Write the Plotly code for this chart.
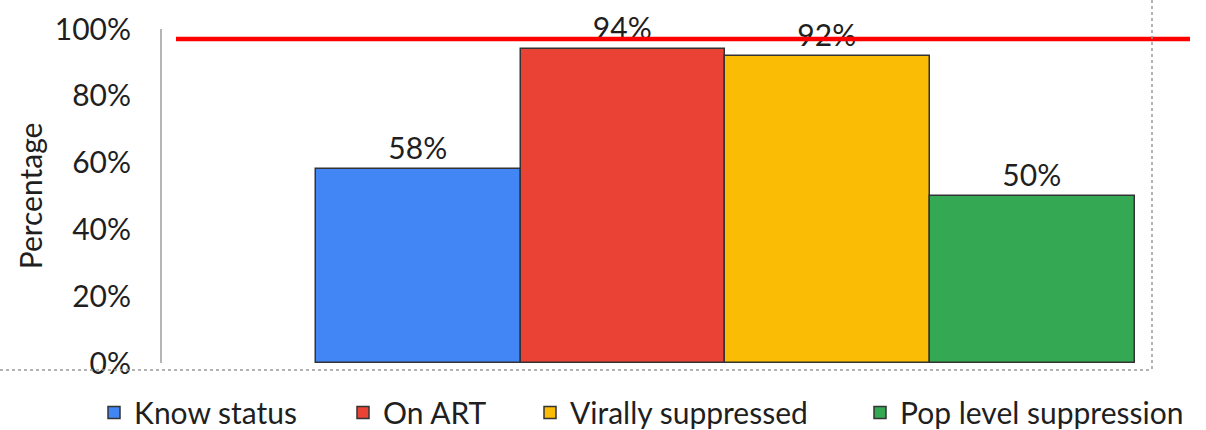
import plotly.graph_objects as go

categories = ["Know status", "On ART", "Virally suppressed", "Pop level suppression"]
values = [58, 94, 92, 50]
colors = ["#4285F4", "#EA4335", "#FBBC05", "#34A853"]
target = 97
y_ticks = [0, 20, 40, 60, 80, 100]
y_tick_labels = ["0%", "20%", "40%", "60%", "80%", "100%"]

FONT = "Lato"
TXT = "#1f1f1f"
L, R, T, B = 162, 16, 29, 67
W, H = 1206, 430
pw, ph = W - L - R, H - T - B

def px(x):
    return (x - L) / pw

def py(y):
    return (H - B - y) / ph

legend_ids = ["legend", "legend2", "legend3", "legend4"]
legend_sym_centers = [113, 362, 549, 879]

fig = go.Figure()
for c, v, col, lid in zip(categories, values, colors, legend_ids):
    fig.add_trace(go.Bar(
        x=[c], y=[v], name=c, legend=lid,
        marker=dict(color=col, line=dict(color="#333333", width=1.5)),
        text=[f"{v}%"], textposition="outside", cliponaxis=False,
        textfont=dict(family=FONT, size=30, color=TXT),
        width=1,
    ))

fig.add_shape(type="line", xref="paper", yref="y", x0=px(176), x1=px(1190), y0=target, y1=target,
              line=dict(color="#FF0000", width=4.5))
fig.add_shape(type="line", xref="paper", yref="paper", x0=px(0), x1=px(1152), y0=py(370), y1=py(370),
              line=dict(color="#9a9a9a", width=1.5, dash="dot"))
fig.add_shape(type="line", xref="paper", yref="paper", x0=px(1152), x1=px(1152), y0=py(0), y1=py(370),
              line=dict(color="#9a9a9a", width=1.5, dash="dot"))

legend_common = dict(orientation="h", yanchor="top", y=-0.07, xanchor="left",
                     font=dict(family=FONT, size=30, color=TXT), itemwidth=30,
                     bgcolor="rgba(0,0,0,0)")
legends = {}
for lid, cx in zip(legend_ids, legend_sym_centers):
    legends[lid] = dict(legend_common, x=px(cx - 19))

fig.update_layout(
    width=W, height=H,
    margin=dict(l=L, r=R, t=T, b=B, autoexpand=False),
    paper_bgcolor="white", plot_bgcolor="white",
    barmode="overlay", bargap=0,
    font=dict(family=FONT, size=30, color=TXT),
    xaxis=dict(range=[-1.251, 3.768], showticklabels=False, showgrid=False, zeroline=False,
               showline=False, fixedrange=True),
    yaxis=dict(range=[0, 100], tickvals=y_ticks, ticktext=y_tick_labels, showgrid=False,
               zeroline=False, showline=True, linecolor="#b5b5b5", linewidth=2,
               ticks="", ticklabelstandoff=23,
               tickfont=dict(family=FONT, size=30, color=TXT),
               title=dict(text="Percentage", font=dict(family=FONT, size=30, color=TXT), standoff=3)),
    showlegend=True,
    **legends,
)

fig.write_html("out.html")
